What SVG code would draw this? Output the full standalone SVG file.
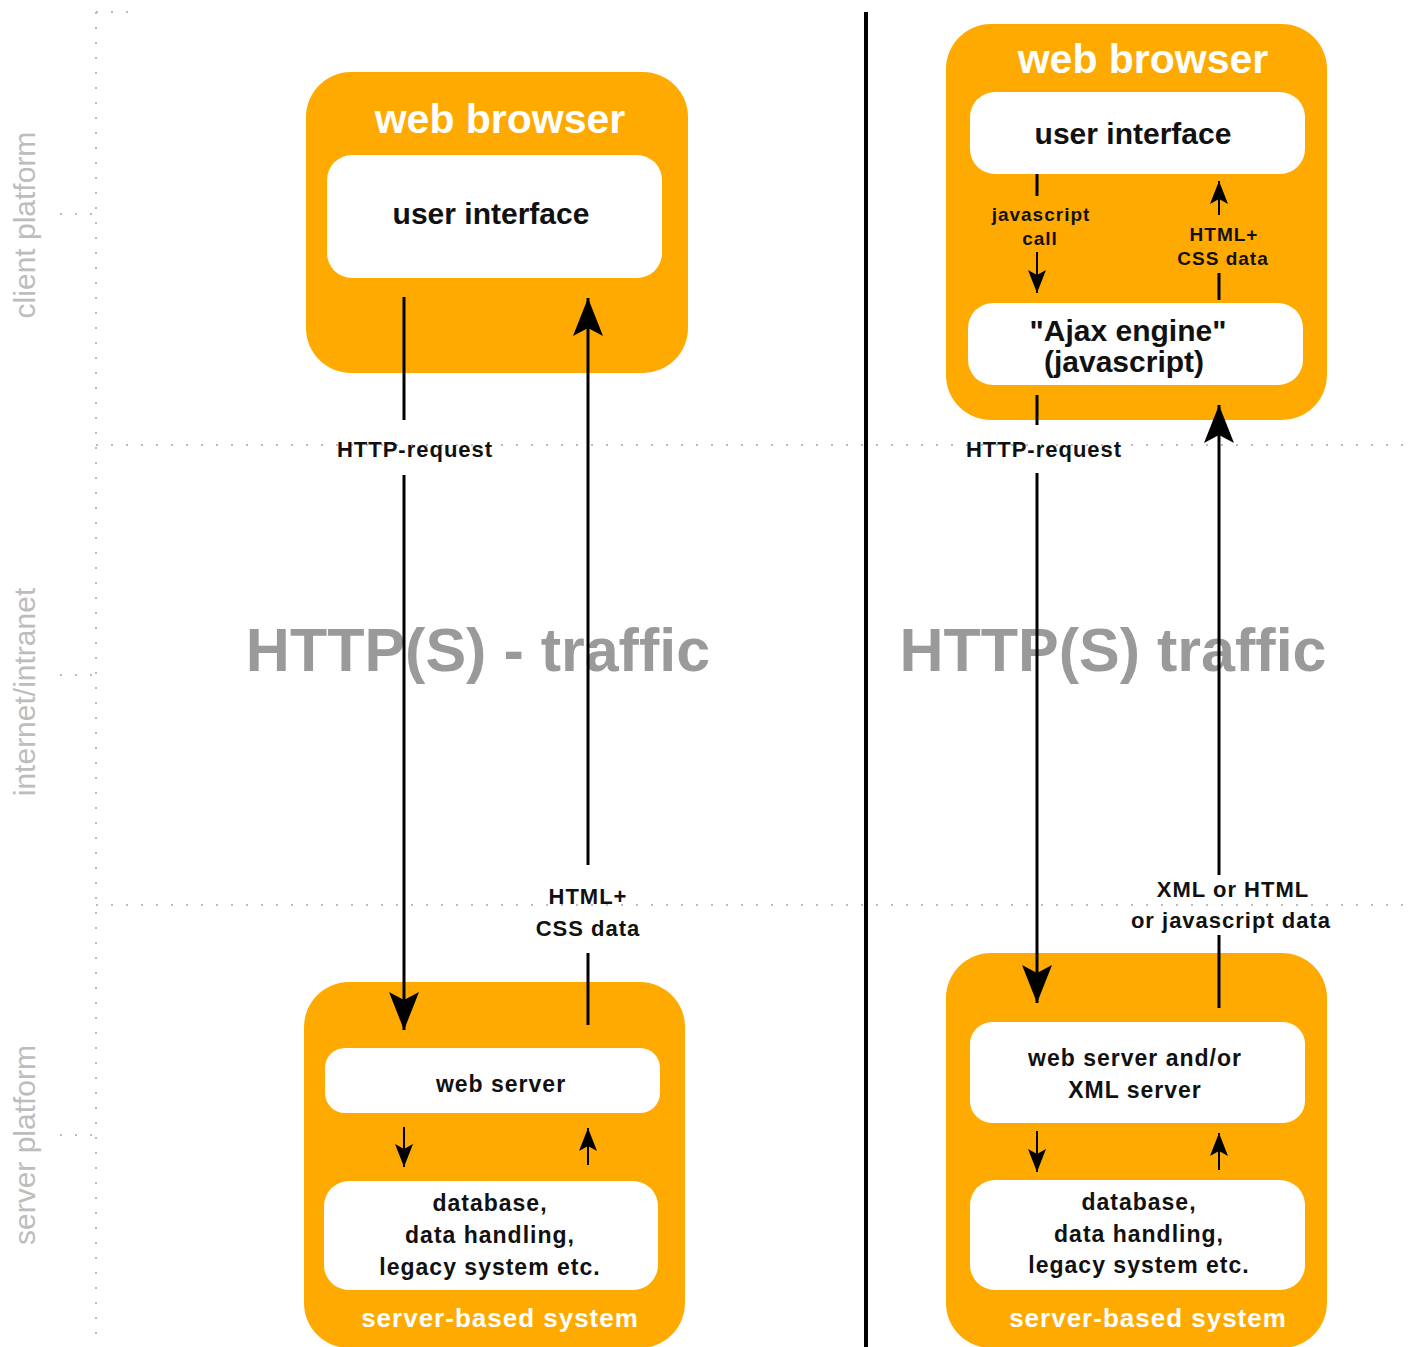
<svg xmlns="http://www.w3.org/2000/svg" width="1412" height="1347" viewBox="0 0 1412 1347">
<style>
.box{fill:#FFAA00}
.inner{fill:#ffffff}
.title{font-family:"Liberation Sans",Arial,sans-serif;font-weight:bold;fill:#ffffff;text-anchor:middle}
.t{font-family:"Liberation Sans",Arial,sans-serif;font-weight:bold;fill:#111111;text-anchor:middle}
.lbl{font-family:"Liberation Sans",Arial,sans-serif;font-weight:bold;fill:#111111;text-anchor:middle;letter-spacing:1px}
.big{font-family:"Liberation Sans",Arial,sans-serif;font-weight:bold;fill:#9a9a9a;font-size:61px;text-anchor:middle}
.side{font-family:"Liberation Sans",Arial,sans-serif;fill:#bdbdbd;font-size:30px;text-anchor:middle}
.dot{stroke:#bbbbbb;stroke-width:2;stroke-dasharray:2 13;fill:none}
.ln{stroke:#000;stroke-width:3;fill:none}
.sm{stroke:#000;stroke-width:2;fill:none}
</style>
<defs>
<marker id="big" markerUnits="userSpaceOnUse" markerWidth="40" markerHeight="30" viewBox="0 0 40 30" refX="38" refY="15" orient="auto">
<path d="M0,0 L38,15 L0,30 L8,15 Z" fill="#000"/>
</marker>
<marker id="small" markerUnits="userSpaceOnUse" markerWidth="24" markerHeight="18" viewBox="0 0 24 18" refX="23" refY="9" orient="auto">
<path d="M0,0 L23,9 L0,18 L5,9 Z" fill="#000"/>
</marker>
</defs>
<rect width="1412" height="1347" fill="#ffffff"/>

<g id="grid">
<line class="dot" x1="96" y1="12" x2="96" y2="1347"/>
<line class="dot" x1="96" y1="445" x2="1412" y2="445"/>
<line class="dot" x1="96" y1="905" x2="1412" y2="905"/>
<line class="dot" x1="96" y1="12" x2="135" y2="12"/>
<line class="dot" x1="60" y1="214" x2="96" y2="214"/>
<line class="dot" x1="60" y1="675" x2="96" y2="675"/>
<line class="dot" x1="60" y1="1135" x2="96" y2="1135"/>
<line x1="866" y1="12" x2="866" y2="1347" stroke="#000" stroke-width="4"/>
</g>

<g id="side-labels">
<text class="side" transform="translate(35,225) rotate(-90)">client platform</text>
<text class="side" transform="translate(35,692) rotate(-90)">internet/intranet</text>
<text class="side" transform="translate(35,1145) rotate(-90)">server platform</text>
</g>

<g id="traffic-labels">
<text class="big" x="478" y="671">HTTP(S) - traffic</text>
<text class="big" x="1113" y="671">HTTP(S) traffic</text>
</g>

<g id="left-browser">
<rect class="box" x="306" y="72" width="382" height="301" rx="45"/>
<text class="title" x="500" y="133" font-size="41">web browser</text>
<rect class="inner" x="327" y="155" width="335" height="123" rx="25"/>
<text class="t" x="491" y="224" font-size="30">user interface</text>
</g>

<g id="left-server">
<rect class="box" x="304" y="982" width="381" height="366" rx="45"/>
<rect class="inner" x="325" y="1048" width="335" height="65" rx="20"/>
<text class="lbl" x="501" y="1092" font-size="23">web server</text>
<rect class="inner" x="324" y="1181" width="334" height="109" rx="25"/>
<text class="lbl" x="490" y="1211" font-size="23">database,</text>
<text class="lbl" x="490" y="1243" font-size="23">data handling,</text>
<text class="lbl" x="490" y="1275" font-size="23">legacy system etc.</text>
<text class="title" x="500" y="1327" font-size="26" letter-spacing="1">server-based system</text>
</g>

<g id="right-browser">
<rect class="box" x="946" y="24" width="381" height="396" rx="45"/>
<text class="title" x="1143" y="73" font-size="41">web browser</text>
<rect class="inner" x="970" y="92" width="335" height="82" rx="25"/>
<text class="t" x="1133" y="144" font-size="30">user interface</text>
<rect class="inner" x="968" y="303" width="335" height="82" rx="25"/>
<text class="t" x="1128" y="341" font-size="30">"Ajax engine"</text>
<text class="t" x="1124" y="372" font-size="30">(javascript)</text>
</g>

<g id="right-server">
<rect class="box" x="946" y="953" width="381" height="395" rx="45"/>
<rect class="inner" x="970" y="1022" width="335" height="101" rx="22"/>
<text class="lbl" x="1135" y="1066" font-size="23">web server and/or</text>
<text class="lbl" x="1135" y="1098" font-size="23">XML server</text>
<rect class="inner" x="970" y="1180" width="335" height="110" rx="25"/>
<text class="lbl" x="1139" y="1210" font-size="23">database,</text>
<text class="lbl" x="1139" y="1242" font-size="23">data handling,</text>
<text class="lbl" x="1139" y="1273" font-size="23">legacy system etc.</text>
<text class="title" x="1148" y="1327" font-size="26" letter-spacing="1">server-based system</text>
</g>

<g id="connectors">
<line class="ln" x1="404" y1="297" x2="404" y2="420"/>
<line class="ln" x1="404" y1="475" x2="404" y2="1030" marker-end="url(#big)"/>
<text class="lbl" x="415" y="457" font-size="22">HTTP-request</text>
<line class="ln" x1="588" y1="1025" x2="588" y2="953"/>
<line class="ln" x1="588" y1="865" x2="588" y2="298" marker-end="url(#big)"/>
<text class="lbl" x="588" y="904" font-size="22">HTML+</text>
<text class="lbl" x="588" y="936" font-size="22">CSS data</text>
<line class="sm" x1="404" y1="1127" x2="404" y2="1167" marker-end="url(#small)"/>
<line class="sm" x1="588" y1="1165" x2="588" y2="1128" marker-end="url(#small)"/>
<line class="ln" x1="1037" y1="174" x2="1037" y2="196"/>
<line class="sm" x1="1037" y1="252" x2="1037" y2="293" marker-end="url(#small)"/>
<text class="lbl" x="1041" y="221" font-size="19">javascript</text>
<text class="lbl" x="1040" y="245" font-size="19">call</text>
<line class="ln" x1="1219" y1="300" x2="1219" y2="273"/>
<line class="sm" x1="1219" y1="215" x2="1219" y2="181" marker-end="url(#small)"/>
<text class="lbl" x="1224" y="241" font-size="19">HTML+</text>
<text class="lbl" x="1223" y="265" font-size="19">CSS data</text>
<line class="ln" x1="1037" y1="395" x2="1037" y2="425"/>
<line class="ln" x1="1037" y1="473" x2="1037" y2="1003" marker-end="url(#big)"/>
<text class="lbl" x="1044" y="457" font-size="22">HTTP-request</text>
<line class="ln" x1="1219" y1="1008" x2="1219" y2="935"/>
<line class="ln" x1="1219" y1="875" x2="1219" y2="405" marker-end="url(#big)"/>
<text class="lbl" x="1233" y="897" font-size="22">XML or HTML</text>
<text class="lbl" x="1231" y="928" font-size="22">or javascript data</text>
<line class="sm" x1="1037" y1="1131" x2="1037" y2="1172" marker-end="url(#small)"/>
<line class="sm" x1="1219" y1="1170" x2="1219" y2="1133" marker-end="url(#small)"/>
</g>
</svg>
